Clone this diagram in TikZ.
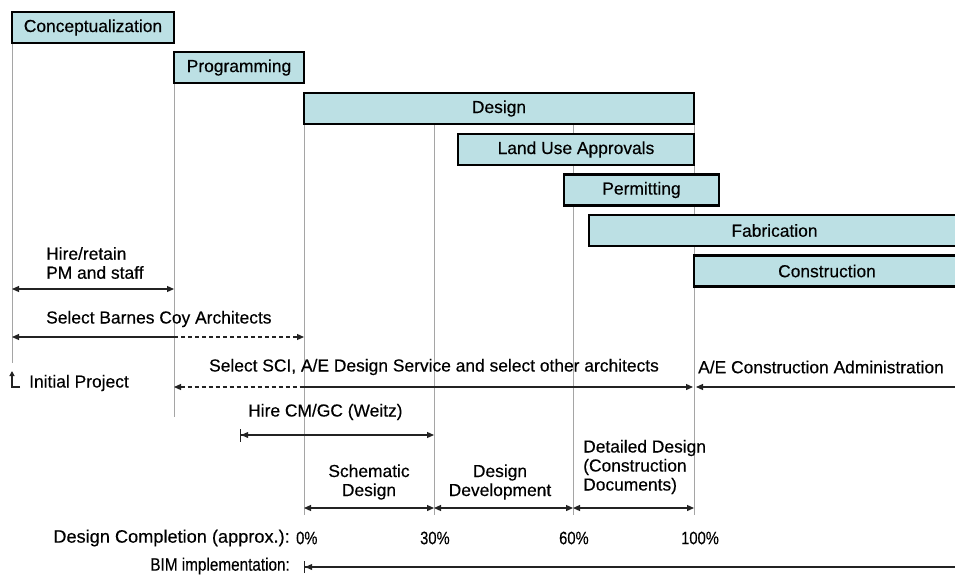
\documentclass[tikz,border=0pt]{standalone}
\usepackage{fontspec}
\setmainfont{Liberation Sans}[FakeBold=0.35]
\newfontfamily\scalefont{Liberation Sans}[FakeBold=0.35]
\usetikzlibrary{arrows.meta,backgrounds}
\definecolor{barfill}{RGB}{188,224,228}
\definecolor{guidegray}{RGB}{165,165,165}
\definecolor{spanink}{RGB}{35,35,35}

\begin{document}
\begin{tikzpicture}[x=1pt,y=-1pt,
  >={Triangle[length=7pt,width=6pt]},
  bar/.style={draw=black,line width=2.4pt,fill=barfill,inner sep=0pt,outer sep=0pt,
    minimum height=31pt,anchor=north west,font=\fontsize{17.4}{19}\selectfont},
  txt/.style={inner sep=0pt,font=\fontsize{17.4}{19}\selectfont,text=black},
  scaletxt/.style={inner sep=0pt,font=\scalefont\fontsize{18}{20}\selectfont,text=black},
  guide/.style={draw=guidegray,line width=1pt},
  span/.style={draw=spanink,line width=1.2pt},
  dashspan/.style={span,dash pattern=on 4pt off 3pt},
  tickspan/.style={span,{Bar[width=13pt,line width=1.2pt]Triangle[length=7pt,width=6pt]}-{Triangle[length=7pt,width=6pt]}},
  tickstart/.style={span,{Bar[width=12pt,line width=1.2pt]Triangle[length=7pt,width=6pt]}-}]

\useasboundingbox (0,0) rectangle (955,579);
\clip (0,0) rectangle (955,579);

% project phases
\node[bar,minimum width=162pt] (concept) at (12,12)    {Conceptualization};
\node[bar,minimum width=130pt] (prog)    at (174,52)   {Programming};
\node[bar,minimum width=390pt] (design)  at (304,93)   {Design};
\node[bar,minimum width=236pt] (landuse) at (458,134)  {Land Use Approvals};
\node[bar,minimum width=155pt] (permit)  at (564,174.5){Permitting};
\node[bar,minimum width=371pt] (fab)     at (589,215)  {Fabrication};
\node[bar,minimum width=266pt] (constr)  at (694,255.5){Construction};

% design milestones (30% and 60%)
\coordinate (d30) at (434,124);
\coordinate (d60) at (573,124);

% vertical guide lines behind the bars
\begin{scope}[on background layer]
  \draw[guide] (concept.south west) -- (concept.south west |- 0,363);
  \draw[guide] (prog.south west)    -- (prog.south west |- 0,417);
  \draw[guide] (design.south west)  -- (design.south west |- 0,515);
  \draw[guide] (d30)                -- (d30 |- 0,515);
  \draw[guide] (d60)                -- (d60 |- 0,515);
  \draw[guide] (design.south east)  -- (design.south east |- 0,515);
\end{scope}

% hire/retain PM and staff
\node[txt,anchor=west,align=left] (hiretxt) at (46,263) {Hire/retain\\PM and staff};
\draw[span,<->] (concept.south west |- 0,289) -- (prog.south west |- 0,289);

% select Barnes Coy Architects
\node[txt,anchor=west] (barnes) at (46,319) {Select Barnes Coy Architects};
\draw[span,<-] (concept.south west |- 0,337) -- (prog.south west |- 0,337);
\draw[dashspan,->] (prog.south west |- 0,337) -- (design.south west |- 0,337);

% initial project marker
\coordinate (initfoot) at (20,387);
\draw[span,-{Triangle[length=5pt,width=5pt]}] (initfoot) -- (concept.south west |- 0,387) -- (concept.south west |- 0,371);
\node[txt,anchor=west] (initial) at (29,383) {Initial Project};

% select SCI / A/E design service
\node[txt] (sci) at (434,367) {Select SCI, A/E Design Service and select other architects};
\draw[dashspan,<-] (prog.south west |- 0,387) -- (design.south west |- 0,387);
\draw[span,->] (design.south west |- 0,387) -- ([xshift=-1pt]design.south east |- 0,387);

% A/E construction administration
\node[txt,anchor=west] (aeca) at (698,367) {A/E Construction Administration};
\coordinate (aecaend) at (962,387);
\draw[span,<-] ([xshift=2pt]design.south east |- 0,387) -- (aecaend);

% hire CM/GC
\node[txt,anchor=west] (cm) at (248,412) {Hire CM/GC (Weitz)};
\coordinate (cmstart) at (240,435);
\draw[tickspan] (cmstart) -- (d30 |- 0,435);

% design sub-phases
\node[txt,align=center] (sd) at (369,482) {Schematic\\Design};
\node[txt,align=center] (dd) at (500,482) {Design\\Development};
\node[txt,anchor=west,align=left] (cd) at (583,467) {Detailed Design\\(Construction\\Documents)};
\draw[span,<->] (design.south west |- 0,508) -- (d30 |- 0,508);
\draw[span,<->] (d30 |- 0,508) -- (d60 |- 0,508);
\draw[span,<->] (d60 |- 0,508) -- (design.south east |- 0,508);

% design completion scale
\node[scaletxt,anchor=east,xscale=1.01] (dclabel) at (290,538) {Design Completion (approx.):};
\node[scaletxt,anchor=west,xscale=0.82] (p0)   at (296,538) {0\%};
\node[scaletxt,anchor=west,xscale=0.82] (p30)  at (420,538) {30\%};
\node[scaletxt,anchor=west,xscale=0.82] (p60)  at (559,538) {60\%};
\node[scaletxt,anchor=west,xscale=0.82] (p100) at (681,538) {100\%};

% BIM implementation
\node[scaletxt,anchor=east,xscale=0.85] (bimlabel) at (290,566) {BIM implementation:};
\coordinate (bimend) at (962,567);
\draw[tickstart] (design.south west |- 0,567) -- (bimend);

\end{tikzpicture}
\end{document}
